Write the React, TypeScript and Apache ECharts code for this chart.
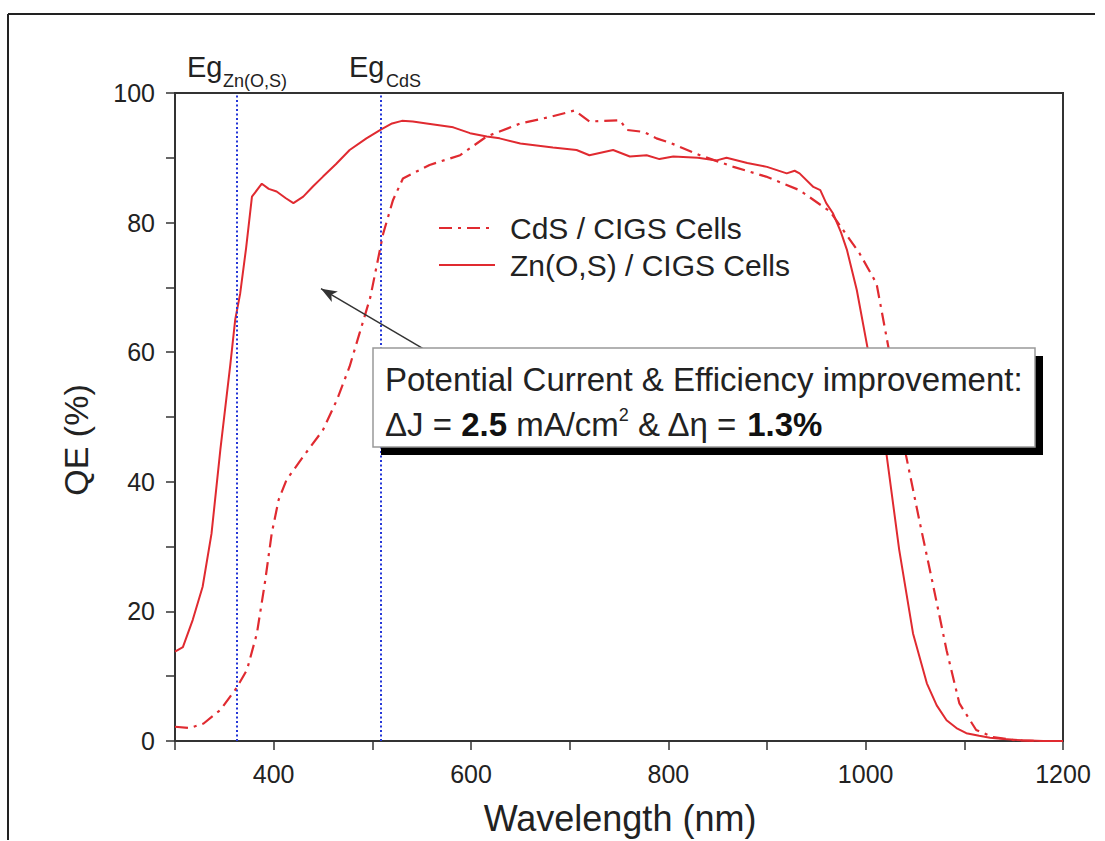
import React, { useEffect, useRef } from "react";
import * as echarts from "echarts";

// ---- Data ----
const znWavelength = [300, 308, 318, 328, 337, 346, 356, 361, 366, 372, 378, 388, 395, 403, 412, 420, 430, 440, 450, 463, 477, 494, 509, 520, 530, 541, 555, 582, 599, 616, 629, 650, 683, 707, 720, 744, 761, 778, 791, 805, 830, 849, 859, 880, 900, 920, 928, 933, 947, 954, 960, 967, 975, 981, 991, 1002, 1012, 1021, 1034, 1048, 1062, 1072, 1082, 1092, 1102, 1115, 1126, 1140, 1159, 1180, 1200];
const znQE = [13.8, 14.5, 18.7, 23.8, 32, 45, 58, 65, 69, 76, 84, 86, 85.2, 84.8, 83.8, 83, 84, 85.6, 87.1, 89, 91.2, 93, 94.4, 95.3, 95.7, 95.6, 95.3, 94.7, 93.8, 93.3, 93.0, 92.2, 91.6, 91.2, 90.4, 91.2, 90.2, 90.4, 89.8, 90.2, 90.0, 89.6, 90.0, 89.2, 88.6, 87.6, 88.0, 87.6, 85.5, 85, 83, 81.4, 78.5, 75.8, 69.6, 60.6, 51, 44.4, 29.5, 16.6, 8.9, 5.5, 3.2, 2.0, 1.2, 0.8, 0.5, 0.3, 0.1, 0, 0];

const cdsWavelength = [300, 315, 329, 346, 362, 373, 383, 391, 398, 405, 413, 430, 450, 464, 477, 487, 498, 511, 521, 531, 558, 589, 616, 650, 680, 705, 720, 751, 758, 775, 788, 802, 832, 866, 899, 933, 964, 994, 1011, 1023, 1041, 1055, 1068, 1082, 1095, 1112, 1129, 1152, 1175, 1200];
const cdsQE = [2.2, 2.0, 2.7, 4.8, 8.1, 11, 16.6, 24.3, 32, 37.2, 40.3, 43.9, 48, 52.6, 57.8, 62.9, 68.5, 78.3, 83.5, 86.8, 88.9, 90.4, 93.3, 95.3, 96.3, 97.3, 95.6, 95.8, 94.3, 94.0, 93.0, 92.3, 90.4, 88.6, 87.1, 85, 81.7, 75.2, 70.6, 60.8, 44.0, 33.6, 24.3, 14, 5.8, 1.7, 0.6, 0.1, 0, 0];

const seriesNames = ["CdS / CIGS Cells", "Zn(O,S) / CIGS Cells"];
const bandgapLines = [363, 509]; // nm, Eg Zn(O,S) and Eg CdS
const arrowFrom = [551, 60.6]; // [nm, QE]
const arrowTo = [448, 69.8];

const xTitle = "Wavelength (nm)";
const yTitle = "QE (%)";
const boxLine1 = "Potential Current & Efficiency improvement:";

const FONT = "Liberation Sans, Arial, Helvetica, sans-serif";
const RED = "#e02a30";

export default function App() {
  const ref = useRef<HTMLDivElement>(null);
  useEffect(() => {
    if (!ref.current) return;
    const chart = echarts.init(ref.current, undefined, { renderer: "svg" });
    const zn = znWavelength.map((w, i) => [w, znQE[i]]);
    const cds = cdsWavelength.map((w, i) => [w, cdsQE[i]]);
    chart.setOption({
      animation: false,
      backgroundColor: "#ffffff",
      textStyle: { fontFamily: FONT },
      grid: {
        left: 175,
        right: 42,
        top: 93,
        bottom: 100,
        show: true,
        borderColor: "#333",
        borderWidth: 2,
      },
      legend: {
        orient: "vertical",
        left: 433,
        top: 208,
        itemWidth: 56,
        itemHeight: 14,
        itemGap: 7,
        itemStyle: { opacity: 0 },
        textStyle: { fontSize: 30, color: "#222", fontFamily: FONT, padding: [0, 0, 0, 10] },
        data: seriesNames,
      },
      xAxis: {
        type: "value",
        min: 300,
        max: 1200,
        interval: 100,
        splitLine: { show: false },
        axisLine: { lineStyle: { color: "#333", width: 2 } },
        axisTick: { inside: false, length: 9, lineStyle: { color: "#333", width: 1.5 } },
        axisLabel: {
          margin: 20,
          fontSize: 25,
          color: "#222",
          fontFamily: FONT,
          formatter: (v: number) => (v % 200 === 0 ? String(v) : ""),
        },
      },
      yAxis: {
        type: "value",
        min: 0,
        max: 100,
        interval: 10,
        splitLine: { show: false },
        axisLine: { show: true, lineStyle: { color: "#333", width: 2 } },
        axisTick: { show: true, inside: false, length: 9, lineStyle: { color: "#333", width: 1.5 } },
        axisLabel: {
          margin: 20,
          fontSize: 25,
          color: "#222",
          fontFamily: FONT,
          formatter: (v: number) => (v % 20 === 0 ? String(v) : ""),
        },
      },
      series: [
        {
          name: seriesNames[0],
          type: "line",
          data: cds,
          symbol: "none",
          smooth: false,
          lineStyle: { color: RED, width: 2.2, type: [13, 6, 3, 6] },
          itemStyle: { color: RED },
          z: 3,
        },
        {
          name: seriesNames[1],
          type: "line",
          data: zn,
          symbol: "none",
          smooth: false,
          lineStyle: { color: RED, width: 2, type: "solid" },
          itemStyle: { color: RED },
          z: 3,
          markLine: {
            silent: true,
            animation: false,
            label: { show: false },
            symbol: ["none", "none"],
            data: [
              ...bandgapLines.map((x) => ({
                xAxis: x,
                lineStyle: { color: "#2436d8", type: [2, 2.5], width: 2 },
              })),
              [
                { coord: arrowFrom, symbol: "none", lineStyle: { color: "#333", width: 1.5, type: "solid" } },
                { coord: arrowTo, symbol: "arrow", symbolSize: [9, 16] },
              ],
            ],
          },
        },
      ],
      graphic: [
        {
          type: "line",
          silent: true,
          shape: { x1: 8, y1: 14, x2: 1095, y2: 14 },
          style: { stroke: "#222", lineWidth: 2 },
        },
        {
          type: "line",
          silent: true,
          shape: { x1: 8, y1: 14, x2: 8, y2: 840 },
          style: { stroke: "#222", lineWidth: 2 },
        },
        {
          type: "text",
          left: 187,
          top: 52,
          style: { text: "Eg", fontSize: 29, fill: "#222", fontFamily: FONT },
        },
        {
          type: "text",
          left: 223,
          top: 72,
          style: { text: "Zn(O,S)", fontSize: 18, fill: "#222", fontFamily: FONT },
        },
        {
          type: "text",
          left: 349,
          top: 52,
          style: { text: "Eg", fontSize: 29, fill: "#222", fontFamily: FONT },
        },
        {
          type: "text",
          left: 386,
          top: 72,
          style: { text: "CdS", fontSize: 18, fill: "#222", fontFamily: FONT },
        },
        {
          type: "text",
          z: 10,
          style: {
            text: yTitle,
            fontSize: 34,
            fill: "#222",
            fontFamily: FONT,
            align: "center",
            verticalAlign: "middle",
          },
          x: 76,
          y: 440,
          rotation: Math.PI / 2,
        },
        {
          type: "text",
          z: 10,
          x: 620,
          y: 818,
          style: {
            text: xTitle,
            fontSize: 36,
            fill: "#222",
            fontFamily: FONT,
            align: "center",
            verticalAlign: "middle",
          },
        },
        {
          type: "group",
          z: 100,
          children: [
            {
              type: "rect",
              z: 100,
              shape: { x: 381, y: 356, width: 662, height: 99 },
              style: { fill: "#000" },
            },
            {
              type: "rect",
              z: 101,
              shape: { x: 373, y: 348, width: 662, height: 99 },
              style: { fill: "#fff", stroke: "#999", lineWidth: 1.5 },
            },
            {
              type: "text",
              z: 102,
              x: 385,
              y: 379,
              style: {
                text: boxLine1,
                fontSize: 33,
                fill: "#222",
                fontFamily: FONT,
                verticalAlign: "middle",
              },
            },
            {
              type: "text",
              z: 102,
              x: 385,
              y: 424,
              style: {
                text: "{n|ΔJ = }{b|2.5}{n| mA/cm}{s|2}{n| & Δη = }{b|1.3%}",
                fontFamily: FONT,
                verticalAlign: "middle",
                rich: {
                  n: { fontSize: 33, fill: "#222", fontFamily: FONT, lineHeight: 36 },
                  b: { fontSize: 33, fill: "#111", fontWeight: "bold", fontFamily: FONT, lineHeight: 36 },
                  s: { fontSize: 18, fill: "#222", fontFamily: FONT, verticalAlign: "top", lineHeight: 36 },
                },
              },
            },
          ],
        },
      ],
    });
    return () => chart.dispose();
  }, []);
  return (
    <div
      ref={ref}
      style={{ position: "fixed", left: 0, top: 0, width: 1105, height: 841, background: "#fff" }}
    />
  );
}
